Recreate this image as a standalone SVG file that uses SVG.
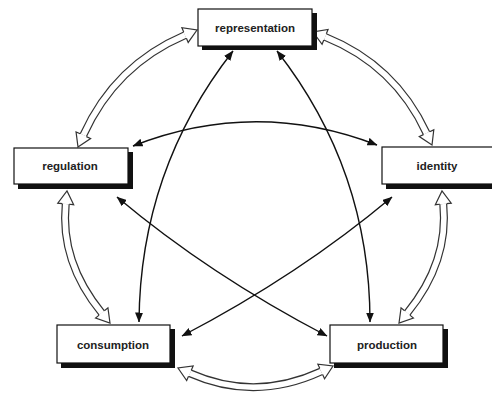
<svg xmlns="http://www.w3.org/2000/svg" width="492" height="394" viewBox="0 0 492 394">
<style>
.box{fill:#fff;stroke:#111;stroke-width:1.2}
.sh{fill:#111}
.lbl{font-family:"Liberation Sans",Arial,sans-serif;font-weight:bold;font-size:11.5px;fill:#222;text-anchor:middle;dominant-baseline:central}
.bandO{fill:none;stroke:#333;stroke-width:8}
.bandI{fill:none;stroke:#fff;stroke-width:5.6}
.head{fill:#fff;stroke:#333;stroke-width:1.2;stroke-linejoin:miter}
.thin{fill:none;stroke:#111;stroke-width:1.4;marker-start:url(#ah);marker-end:url(#ah)}
</style>
<defs>
<marker id="ah" viewBox="0 0 10 8" refX="9.5" refY="4" markerWidth="10" markerHeight="8" markerUnits="userSpaceOnUse" orient="auto-start-reverse">
<path d="M0,0 L10,4 L0,8 z" fill="#111"/>
</marker>
</defs>
<rect width="492" height="394" fill="#fff"/>
<g id="connectors">
<g id="outer">
<path class="bandO" d="M185.05,35.1 Q115,65 83.34,135.16"/>
<path class="bandI" d="M185.05,35.1 Q115,65 83.34,135.16"/>
<polyline class="head" points="186.4,38.2 188.2,42.45 197,30 181.9,27.75 183.7,32.0"/>
<polyline class="head" points="86.4,136.6 90.6,138.5 78,147 76.05,131.9 80.2,133.8"/>

<path class="bandO" d="M325.06,36.85 Q395,65 426.54,133.2"/>
<path class="bandI" d="M325.06,36.85 Q395,65 426.54,133.2"/>
<polyline class="head" points="326.33,33.69 328.04,29.43 313,32 322.08,44.27 323.79,40.0"/>
<polyline class="head" points="429.63,131.77 433.8,129.84 432,145 419.28,136.56 423.45,134.63"/>

<path class="bandO" d="M65.73,203.94 Q60,262 101.76,312.95"/>
<path class="bandI" d="M65.73,203.94 Q60,262 101.76,312.95"/>
<polyline class="head" points="69.11,204.27 73.69,204.72 67,191 57.77,203.16 62.35,203.61"/>
<polyline class="head" points="104.39,310.79 107.94,307.88 110,323 95.58,318.02 99.13,315.11"/>

<path class="bandO" d="M443.27,203.94 Q449,262 407.24,312.95"/>
<path class="bandI" d="M443.27,203.94 Q449,262 407.24,312.95"/>
<polyline class="head" points="439.89,204.27 435.31,204.72 442,191 451.23,203.16 446.65,203.61"/>
<polyline class="head" points="404.61,310.79 401.06,307.88 399,323 413.42,318.02 409.87,315.11"/>

<path class="bandO" d="M189.9,373.25 Q255,402 321.2,371.45"/>
<path class="bandI" d="M189.9,373.25 Q255,402 321.2,371.45"/>
<polyline class="head" points="191.27,370.14 193.13,365.93 178,368 186.67,380.57 188.53,376.36"/>
<polyline class="head" points="322.62,374.54 324.55,378.71 333,366 317.85,364.19 319.78,368.36"/>
</g>
<g id="inner">
<path class="thin" d="M233,51 Q140,170 139,322"/>
<path class="thin" d="M277,51 Q370,170 370,322"/>
<path class="thin" d="M133,146 Q255,98 377,145"/>
<path class="thin" d="M117,197 Q210,275 327,336"/>
<path class="thin" d="M392,197 Q299,275 182,336"/>
</g>
</g>
<g id="representation">
<rect class="sh" x="202" y="13" width="115" height="37"/>
<rect class="box" x="198" y="9" width="114" height="37"/>
<text class="lbl" x="255" y="27.5">representation</text>
</g>
<g id="regulation">
<rect class="sh" x="18" y="152" width="115" height="37"/>
<rect class="box" x="14" y="148" width="114" height="36"/>
<text class="lbl" x="70" y="166">regulation</text>
</g>
<g id="identity">
<rect class="sh" x="386" y="152" width="115" height="37"/>
<rect class="box" x="382" y="147" width="114" height="37"/>
<text class="lbl" x="437" y="166">identity</text>
</g>
<g id="consumption">
<rect class="sh" x="61" y="329" width="114" height="39"/>
<rect class="box" x="57" y="325" width="113" height="38"/>
<text class="lbl" x="113" y="345">consumption</text>
</g>
<g id="production">
<rect class="sh" x="334" y="329" width="114" height="39"/>
<rect class="box" x="330" y="325" width="113" height="38"/>
<text class="lbl" x="387" y="345">production</text>
</g>
</svg>
